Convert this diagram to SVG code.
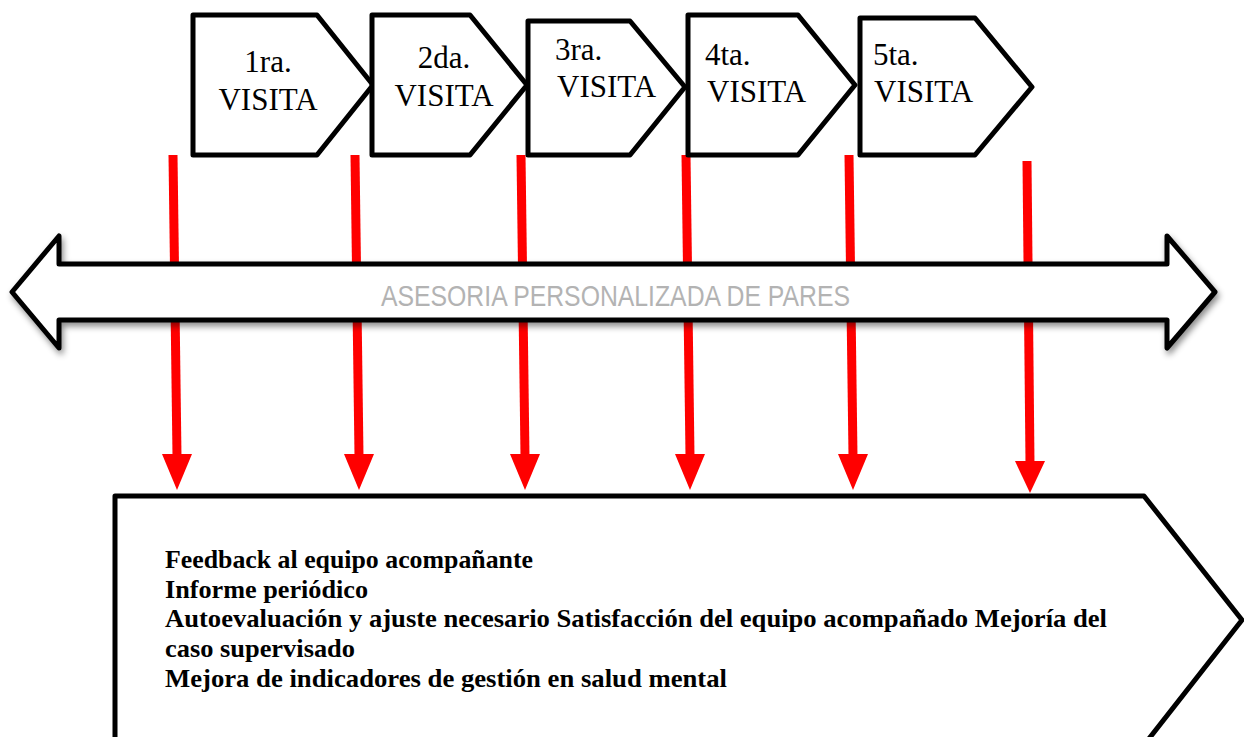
<svg xmlns="http://www.w3.org/2000/svg" width="1244" height="737" viewBox="0 0 1244 737">
<defs>
<style>
.box{fill:#fff;stroke:#000;stroke-width:5;stroke-linejoin:round}
.vt{font-family:"Liberation Serif","Times New Roman",serif;font-size:31px;fill:#000}
.red{stroke:#ff0000;stroke-width:9;fill:none}
.head{fill:#ff0000}
.bt{font-family:"Liberation Serif","Times New Roman",serif;font-size:26px;font-weight:bold;fill:#000}
.at{font-family:"Liberation Sans",Arial,sans-serif;font-size:30px;fill:#b3b3b3}
</style>
<filter id="shadow" x="-5%" y="-20%" width="110%" height="150%">
<feDropShadow dx="2" dy="4" stdDeviation="3" flood-color="#000" flood-opacity="0.45"/>
</filter>
</defs>
<rect width="1244" height="737" fill="#fff"/>

<g id="connectors">
<line class="red" x1="173" y1="155" x2="177" y2="456"/>
<polygon class="head" points="162,454 192,454 177,490"/>
<line class="red" x1="355" y1="155" x2="359" y2="456"/>
<polygon class="head" points="344,454 374,454 359,490"/>
<line class="red" x1="521" y1="155" x2="525" y2="456"/>
<polygon class="head" points="510,454 540,454 525,490"/>
<line class="red" x1="686" y1="155" x2="690" y2="456"/>
<polygon class="head" points="675,454 705,454 690,490"/>
<line class="red" x1="849" y1="155" x2="853" y2="456"/>
<polygon class="head" points="838,454 868,454 853,490"/>
<line class="red" x1="1027" y1="161" x2="1030" y2="463"/>
<polygon class="head" points="1015,461 1045,461 1030,493"/>
</g>

<g id="visita1">
<polygon class="box" points="193,15 317,15 373,85 317,155 193,155"/>
<text class="vt" x="268" y="72" text-anchor="middle">1ra.</text>
<text class="vt" x="268" y="110" text-anchor="middle">VISITA</text>
</g>
<g id="visita2">
<polygon class="box" points="372,15 470,15 527,85 470,155 372,155"/>
<text class="vt" x="444" y="68" text-anchor="middle">2da.</text>
<text class="vt" x="444" y="106" text-anchor="middle">VISITA</text>
</g>
<g id="visita3">
<polygon class="box" points="528,21 630,21 685,87 630,155 528,155"/>
<text class="vt" x="555" y="60">3ra.</text>
<text class="vt" x="557" y="97">VISITA</text>
</g>
<g id="visita4">
<polygon class="box" points="688,15 798,15 855,85 798,155 688,155"/>
<text class="vt" x="705" y="65">4ta.</text>
<text class="vt" x="707" y="102">VISITA</text>
</g>
<g id="visita5">
<polygon class="box" points="860,18 975,18 1032,87 975,155 860,155"/>
<text class="vt" x="873" y="65">5ta.</text>
<text class="vt" x="874" y="102">VISITA</text>
</g>

<g id="asesoria">
<polygon class="box" filter="url(#shadow)" points="12,292 59,236 59,264 1167,264 1167,236 1215,292 1167,348 1167,320 59,320 59,348"/>
<text class="at" x="381" y="306" textLength="469" lengthAdjust="spacingAndGlyphs">ASESORIA PERSONALIZADA DE PARES</text>
</g>

<g id="resultados">
<polygon class="box" points="115,496 1144,496 1242,620 1144,745 115,745"/>
<text class="bt" x="165" y="568" textLength="368" lengthAdjust="spacingAndGlyphs">Feedback al equipo acompañante</text>
<text class="bt" x="165" y="598" textLength="203" lengthAdjust="spacingAndGlyphs">Informe periódico</text>
<text class="bt" x="165" y="627" textLength="942" lengthAdjust="spacingAndGlyphs">Autoevaluación y ajuste necesario Satisfacción del equipo acompañado Mejoría del</text>
<text class="bt" x="165" y="657" textLength="190" lengthAdjust="spacingAndGlyphs">caso supervisado</text>
<text class="bt" x="165" y="687" textLength="562" lengthAdjust="spacingAndGlyphs">Mejora de indicadores de gestión en salud mental</text>
</g>
</svg>
